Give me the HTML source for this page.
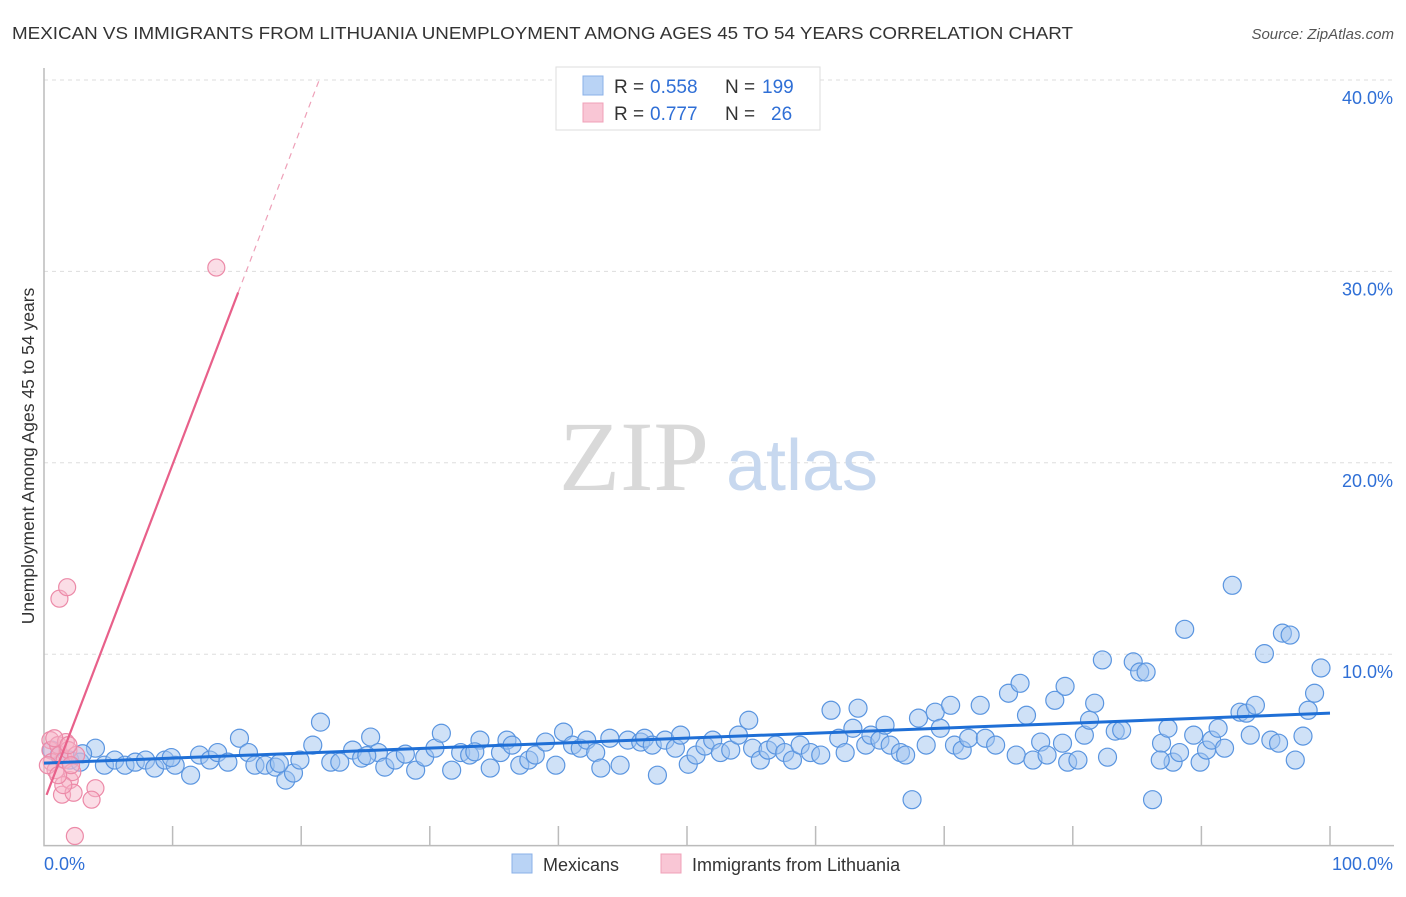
<!DOCTYPE html>
<html><head><meta charset="utf-8"><style>
body{margin:0;background:#fff;width:1406px;height:892px;overflow:hidden;font-family:"Liberation Sans",sans-serif}
</style></head><body>
<svg id="chart" width="1406" height="892" font-family="Liberation Sans, sans-serif">
<text x="12" y="39" font-size="17.5" fill="#333" textLength="1061" lengthAdjust="spacingAndGlyphs">MEXICAN VS IMMIGRANTS FROM LITHUANIA UNEMPLOYMENT AMONG AGES 45 TO 54 YEARS CORRELATION CHART</text>
<text x="1394" y="39" font-size="15" fill="#555" font-style="italic" text-anchor="end">Source: ZipAtlas.com</text>
<g id="grid"></g>
<text x="634" y="490" font-size="100" fill="#d9d9d9" style="font-family:'Liberation Serif',serif" text-anchor="middle">ZIP</text>
<text x="802" y="490" font-size="72" fill="#c7d8ef" text-anchor="middle">atlas</text>
<g id="pts"></g>
<g id="lines"></g>
<text transform="translate(34,456) rotate(-90)" font-size="17.5" fill="#333" text-anchor="middle">Unemployment Among Ages 45 to 54 years</text>
<g>
<rect x="556" y="67" width="264" height="63" fill="#fff" stroke="#ddd"/>
<rect x="583" y="76" width="20" height="19" fill="#b9d3f5" stroke="#8ab0e8"/>
<rect x="583" y="103" width="20" height="19" fill="#f9c6d5" stroke="#f0a0b8"/>
<text x="614" y="93" font-size="19" fill="#333">R =</text>
<text x="650" y="93" font-size="19" fill="#2f6fd6">0.558</text>
<text x="725" y="93" font-size="19" fill="#333">N =</text>
<text x="762" y="93" font-size="19" fill="#2f6fd6">199</text>
<text x="614" y="120" font-size="19" fill="#333">R =</text>
<text x="650" y="120" font-size="19" fill="#2f6fd6">0.777</text>
<text x="725" y="120" font-size="19" fill="#333">N =</text>
<text x="771" y="120" font-size="19" fill="#2f6fd6">26</text>
</g>
<g>
<rect x="512" y="854" width="20" height="19" fill="#b9d3f5" stroke="#8ab0e8"/>
<text x="543" y="871" font-size="18" fill="#333">Mexicans</text>
<rect x="661" y="854" width="20" height="19" fill="#f9c6d5" stroke="#f0a0b8"/>
<text x="692" y="871" font-size="18" fill="#333">Immigrants from Lithuania</text>
</g>
</svg>
<script>
const yTicks=[10,20,30,40];
const yTickLabels=["10.0%","20.0%","30.0%","40.0%"];
const xTicks=[0,10,20,30,40,50,60,70,80,90,100];
const mexX=[0.6,1.2,2.0,2.8,4.0,4.7,5.5,6.3,7.1,7.9,8.6,9.4,10.2,11.4,12.1,12.9,13.5,14.3,15.2,15.9,16.4,17.2,18.0,18.8,19.4,19.9,20.9,21.5,22.3,23.0,24.0,24.7,25.4,26.0,26.5,27.3,28.1,28.9,29.6,30.4,30.9,31.7,32.4,33.1,33.9,34.7,35.5,36.0,36.4,37.0,37.7,38.2,39.0,39.8,40.4,41.1,41.7,42.2,42.9,43.3,44.0,44.8,45.4,46.4,46.7,47.3,47.7,48.3,49.1,49.5,50.1,50.7,51.4,52.0,52.6,53.4,54.0,54.8,55.1,55.7,56.3,56.9,57.6,58.2,58.8,59.6,60.4,61.2,61.8,62.3,62.9,63.3,63.9,64.3,65.0,65.4,65.8,66.6,67.0,67.5,68.0,68.6,69.3,69.7,70.5,70.8,71.4,71.9,72.8,73.2,74.0,75.0,75.6,75.9,76.4,76.9,77.5,78.0,78.6,79.2,79.4,79.6,80.4,80.9,81.3,81.7,82.3,82.7,83.3,83.8,84.7,85.2,85.7,86.2,86.9,87.4,87.8,88.3,88.7,89.4,89.9,90.4,90.8,91.3,91.8,92.4,93.0,93.5,93.8,94.2,94.9,95.4,96.0,96.3,96.9,97.3,97.9,98.3,98.8,99.3,86.8,3.0,9.9,18.3,25.1,33.5];
const mexY=[4.99,4.73,4.47,4.36,5.09,4.2,4.47,4.2,4.36,4.47,4.05,4.47,4.2,3.68,4.73,4.47,4.86,4.36,5.61,4.86,4.2,4.2,4.1,3.42,3.79,4.47,5.25,6.45,4.36,4.36,4.99,4.57,5.67,4.86,4.1,4.47,4.78,3.94,4.62,5.09,5.87,3.94,4.86,4.73,5.51,4.05,4.86,5.51,5.25,4.2,4.47,4.73,5.41,4.2,5.93,5.25,5.09,5.51,4.86,4.05,5.61,4.2,5.51,5.41,5.61,5.25,3.68,5.51,5.09,5.77,4.25,4.73,5.2,5.51,4.86,4.99,5.77,6.55,5.09,4.47,4.99,5.25,4.86,4.47,5.25,4.86,4.73,7.07,5.61,4.86,6.13,7.18,5.25,5.77,5.51,6.29,5.25,4.86,4.73,2.4,6.66,5.25,6.97,6.13,7.33,5.25,4.99,5.61,7.33,5.61,5.25,7.96,4.73,8.48,6.81,4.47,5.41,4.73,7.59,5.35,8.32,4.36,4.47,5.77,6.55,7.44,9.7,4.62,5.98,6.03,9.6,9.07,9.07,2.4,5.35,6.13,4.36,4.86,11.3,5.77,4.36,4.99,5.51,6.13,5.09,13.6,6.97,6.92,5.77,7.33,10.03,5.51,5.35,11.1,11.0,4.47,5.72,7.07,7.96,9.28,4.47,4.8,4.6,4.3,4.7,4.9];
const litX=[0.5,0.5,0.6,0.9,1.1,1.2,1.4,1.6,1.7,1.9,2.0,2.2,2.3,2.5,1.2,1.8,2.4,4.0,3.7,13.4,0.3,0.8,1.5,1.1,2.1,1.9];
const litY=[5.51,4.99,4.36,3.94,5.25,4.73,2.66,4.47,5.41,4.99,3.42,3.84,2.76,4.73,12.9,13.5,0.5,3.0,2.4,30.2,4.2,5.61,3.16,3.68,4.2,5.25];
const mexTrend=[[0,4.31],[100,6.92]];
const litTrend=[[0.2,2.65],[15.1,28.9]];
const litDash=[[15.1,28.9],[21.4,40]];
const X=v=>44+v*12.86, Y=v=>845.6-v*19.14;
const NS="http://www.w3.org/2000/svg";
function mk(t,a,p){const e=document.createElementNS(NS,t);for(const k in a)e.setAttribute(k,a[k]);p.appendChild(e);return e;}
const g=document.getElementById('grid');
yTicks.forEach((t,i)=>{
 const l=mk('line',{x1:44,x2:1394,y1:Y(t),y2:Y(t),stroke:'#ddd','stroke-dasharray':'4,4'},g);
 
 
 const tx=mk('text',{x:1393,y:Y(t)+24,'font-size':18,fill:'#2f6fd6','text-anchor':'end'},g);
 tx.textContent=yTickLabels[i];
 
 
});
const ax=mk('path',{d:'M44,68 V845.6 H1394',fill:'none',stroke:'#bbb','stroke-width':1.5},g);


xTicks.forEach(t=>{if(t===0)return;
 const l=mk('line',{x1:X(t),x2:X(t),y1:826,y2:845.6,stroke:'#bbb','stroke-width':1.5},g);
 
 
});
const xl0=mk('text',{x:44,y:870,'font-size':18,fill:'#2f6fd6'},g);xl0.textContent='0.0%';


const xl1=mk('text',{x:1393,y:870,'font-size':18,fill:'#2f6fd6','text-anchor':'end'},g);xl1.textContent='100.0%';


const p=document.getElementById('pts');
mexX.forEach((x,i)=>{
 const c=mk('circle',{cx:X(x),cy:Y(mexY[i]),r:9,fill:'rgba(160,196,240,0.5)',stroke:'#5a95e0','stroke-width':1.2},p);
 
 
});
litX.forEach((x,i)=>{
 const c=mk('circle',{cx:X(x),cy:Y(litY[i]),r:8.5,fill:'rgba(246,180,200,0.45)',stroke:'#ec8aa8','stroke-width':1.2},p);
 
 
});
const L=document.getElementById('lines');
const t1=mk('line',{x1:X(mexTrend[0][0]),y1:Y(mexTrend[0][1]),x2:X(mexTrend[1][0]),y2:Y(mexTrend[1][1]),stroke:'#1f6fd6','stroke-width':3},L);


const t2=mk('line',{x1:X(litTrend[0][0]),y1:Y(litTrend[0][1]),x2:X(litTrend[1][0]),y2:Y(litTrend[1][1]),stroke:'#e8608a','stroke-width':2.2},L);


const t3=mk('line',{x1:X(litDash[0][0]),y1:Y(litDash[0][1]),x2:X(litDash[1][0]),y2:Y(litDash[1][1]),stroke:'#eea0b8','stroke-width':1.2,'stroke-dasharray':'6,5'},L);


</script>
</body></html>
